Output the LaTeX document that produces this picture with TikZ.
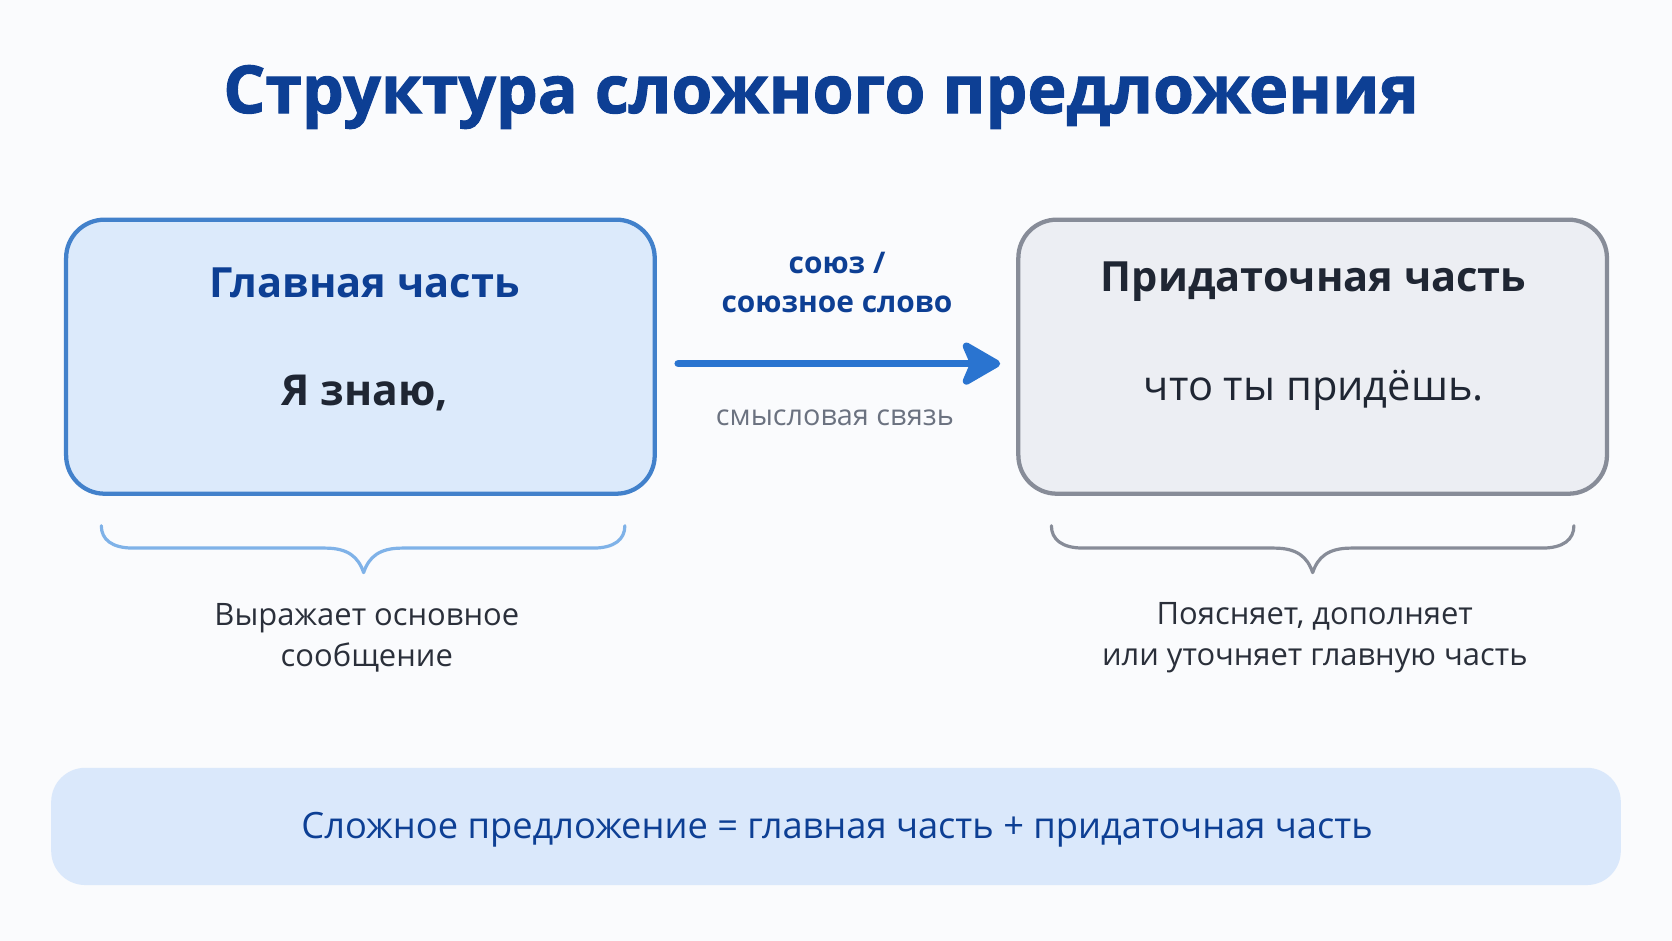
\documentclass[tikz,border=0pt]{standalone}
\usepackage{fontspec}
\setmainfont{Open Sans}
\newfontfamily\titlefont[FakeBold=1.5]{Open Sans}
\usetikzlibrary{arrows.meta}
\definecolor{navy}{HTML}{0D3F94}
\definecolor{bluestroke}{HTML}{4281CB}
\definecolor{bluefill}{HTML}{DCEAFB}
\definecolor{graystroke}{HTML}{878C98}
\definecolor{grayfill}{HTML}{ECEEF3}
\definecolor{arrowblue}{HTML}{2A74D0}
\definecolor{darktext}{HTML}{1F2633}
\definecolor{bodytext}{HTML}{2A2F3A}
\definecolor{mutedtext}{HTML}{6B7280}
\definecolor{bracelight}{HTML}{7FB2E8}
\definecolor{bandfill}{HTML}{DAE8FB}
\definecolor{pagebg}{HTML}{FAFBFD}
\tikzset{
  partbox/.style={rounded corners=36pt, line width=4pt},
  headtext/.style={font=\bfseries\fontsize{39}{44}\selectfont},
  desctext/.style={font=\fontsize{29}{38}\selectfont, text=bodytext, align=center},
  bracepath/.style={line width=3pt, line cap=round, line join=round},
}
\begin{document}
\begin{tikzpicture}[x=1pt,y=-1pt]
\useasboundingbox (0,0) rectangle (1568,882.4);
\fill[pagebg] (0,0) rectangle (1568,882.4);
% title
\node[font=\titlefont\bfseries\fontsize{62}{70}\selectfont, text=navy] (title) at (770,91) {Структура сложного предложения};
% boxes
\draw[partbox, draw=bluestroke, fill=bluefill] (62,206) rectangle (614,463);
\draw[partbox, draw=graystroke, fill=grayfill] (955,206) rectangle (1507,463);
\node[headtext, text=navy] (mainhead) at (342,265) {Главная часть};
\node[font=\bfseries\fontsize{40}{44}\selectfont, text=darktext] (mainex) at (342,369) {Я знаю,};
\node[headtext, text=darktext] (subhead) at (1232,264) {Придаточная часть};
\node[font=\fontsize{39}{44}\selectfont, text=darktext] (subex) at (1232,366) {что ты придёшь.};
% arrow
\coordinate (astart) at (636,341);
\coordinate (aend) at (938,341);
\draw[line width=7pt, line cap=round, draw=arrowblue, -{Stealth[length=42pt,width=48pt,inset=10pt,round]}] (astart) -- (aend);
\node[font=\bfseries\fontsize{28}{37}\selectfont, text=navy, align=center] (conj) at (785,265) {союз /\\союзное слово};
\node[font=\fontsize{27}{32}\selectfont, text=mutedtext] (sense) at (783,392) {смысловая связь};
% braces
\draw[bracepath, draw=bracelight] (95,493) .. controls (95,506) and (105,514) .. (125,514) -- (305,514) .. controls (326,514) and (336,522) .. (341,537) .. controls (346,522) and (356,514) .. (377,514) -- (556,514) .. controls (576,514) and (586,506) .. (586,493);
\draw[bracepath, draw=graystroke] (986,493) .. controls (986,506) and (996,514) .. (1016,514) -- (1195,514) .. controls (1216,514) and (1226,522) .. (1231,537) .. controls (1236,522) and (1246,514) .. (1267,514) -- (1446,514) .. controls (1466,514) and (1476,506) .. (1476,493);
\node[desctext] (maindesc) at (344,598) {Выражает основное\\сообщение};
\node[desctext] (subdesc) at (1233,598) {Поясняет, дополняет\\или уточняет главную часть};
% bottom band
\fill[bandfill, rounded corners=32pt] (48,720) rectangle (1520,830);
\node[font=\fontsize{34}{38}\selectfont, text=navy] (formula) at (785,778) {Сложное предложение = главная часть + придаточная часть};
\end{tikzpicture}
\end{document}
